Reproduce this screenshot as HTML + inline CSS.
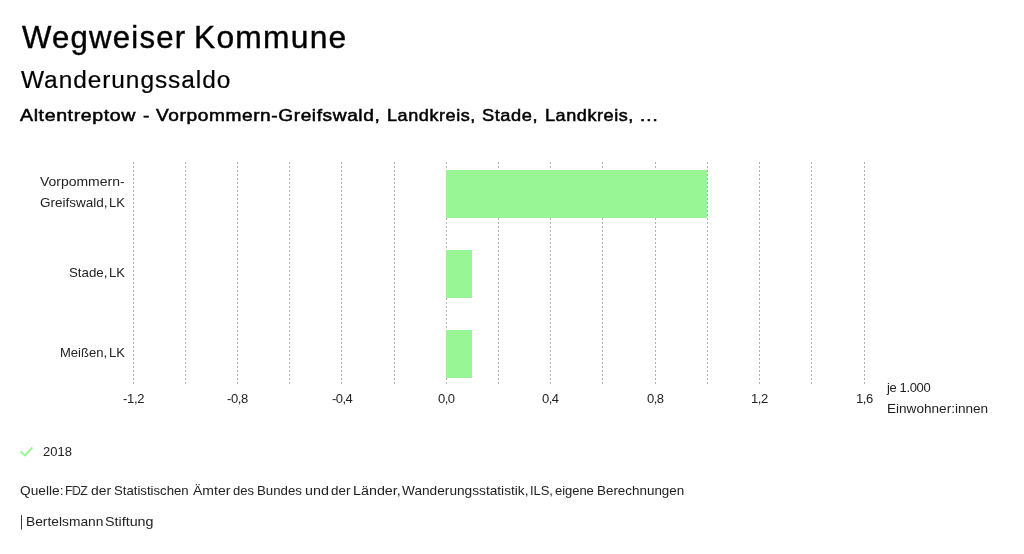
<!DOCTYPE html>
<html><head><meta charset="utf-8">
<style>
html,body{margin:0;padding:0;background:#fff;}
body{width:1024px;height:554px;position:relative;overflow:hidden;font-family:"Liberation Sans",sans-serif;color:#000;}
.t{position:absolute;white-space:nowrap;line-height:1;transform-origin:0 0;will-change:transform;}
svg{position:absolute;left:0;top:0;}
</style></head><body>
<svg width="1024" height="554" viewBox="0 0 1024 554">
<g stroke="#b2b2b2" stroke-width="1" stroke-dasharray="2,2" fill="none" id="grid">
<path d="M133.5 162V384M185.5 162V384M237.5 162V384M289.5 162V384M341.5 162V384M394.5 162V384M446.5 162V384M498.5 162V384M550.5 162V384M602.5 162V384M655.5 162V384M707.5 162V384M759.5 162V384M811.5 162V384M864.5 162V384"/>
</g>
<g fill="#98f794">
<rect x="446" y="170" width="261" height="48"/>
<rect x="446" y="250" width="26" height="48"/>
<rect x="446" y="330" width="26" height="48"/>
</g>
<path d="M20.5 451.5L25 455.4L32.4 447.5" stroke="#98f794" stroke-width="1.9" fill="none"/>
<rect x="21" y="515" width="1" height="14.6" fill="#3a3a3a"/>
</svg>
<div class="t" id="t1" style="left:21.65px;top:22.00px;font-size:30.5px;color:#000;transform:scaleX(1.0206);-webkit-text-stroke:0.4px #000;letter-spacing:1.2px;">Wegweiser</div>
<div class="t" id="t2" style="left:193.61px;top:22.00px;font-size:30.5px;color:#000;transform:scaleX(1.0411);-webkit-text-stroke:0.4px #000;letter-spacing:1.2px;">Kommune</div>
<div class="t" id="s1" style="left:21.04px;top:69.31px;font-size:23.5px;color:#000;transform:scaleX(1.0404);-webkit-text-stroke:0.2px #000;letter-spacing:0.9px;">Wanderungssaldo</div>
<div class="t" id="b1" style="left:19.78px;top:107.42px;font-size:16.4px;color:#000;transform:scaleX(1.1948);-webkit-text-stroke:0.5px #000;letter-spacing:0.5px;">Altentreptow</div>
<div class="t" id="b2" style="left:142.90px;top:107.42px;font-size:16.4px;color:#000;transform:scaleX(1.1752);-webkit-text-stroke:0.5px #000;letter-spacing:0.5px;">-</div>
<div class="t" id="b3" style="left:155.70px;top:107.42px;font-size:16.4px;color:#000;transform:scaleX(1.1666);-webkit-text-stroke:0.5px #000;letter-spacing:0.5px;">Vorpommern-Greifswald,</div>
<div class="t" id="b4" style="left:386.74px;top:107.42px;font-size:16.4px;color:#000;transform:scaleX(1.1030);-webkit-text-stroke:0.5px #000;letter-spacing:0.5px;">Landkreis,</div>
<div class="t" id="b5" style="left:482.20px;top:107.42px;font-size:16.4px;color:#000;transform:scaleX(1.1118);-webkit-text-stroke:0.5px #000;letter-spacing:0.5px;">Stade,</div>
<div class="t" id="b6" style="left:545.15px;top:107.42px;font-size:16.4px;color:#000;transform:scaleX(1.1025);-webkit-text-stroke:0.5px #000;letter-spacing:0.5px;">Landkreis,</div>
<div class="t" id="b7" style="left:639.07px;top:107.42px;font-size:16.4px;color:#000;transform:scaleX(1.2009);-webkit-text-stroke:0.5px #000;letter-spacing:0.5px;">…</div>
<div class="t" id="l1a" style="left:40.19px;top:174.80px;font-size:13px;color:#222;transform:scaleX(1.0737);">Vorpommern-</div>
<div class="t" id="l1b1" style="left:39.90px;top:195.80px;font-size:13px;color:#222;transform:scaleX(1.0392);">Greifswald,</div>
<div class="t" id="l1b2" style="left:108.79px;top:195.80px;font-size:13px;color:#222;transform:scaleX(1.0003);">LK</div>
<div class="t" id="l2a" style="left:68.85px;top:265.80px;font-size:13px;color:#222;transform:scaleX(1.0206);">Stade,</div>
<div class="t" id="l2b" style="left:108.68px;top:265.80px;font-size:13px;color:#222;transform:scaleX(1.0012);">LK</div>
<div class="t" id="l3a" style="left:59.60px;top:345.80px;font-size:13px;color:#222;transform:scaleX(1.0022);">Meißen,</div>
<div class="t" id="l3b" style="left:108.68px;top:345.80px;font-size:13px;color:#222;transform:scaleX(1.0012);">LK</div>
<div class="t" id="x0" style="left:123.23px;top:392.00px;font-size:13px;color:#222;letter-spacing:-0.321px;">-1,2</div>
<div class="t" id="x1" style="left:227.09px;top:392.00px;font-size:13px;color:#222;letter-spacing:-0.398px;">-0,8</div>
<div class="t" id="x2" style="left:331.61px;top:392.00px;font-size:13px;color:#222;letter-spacing:-0.519px;">-0,4</div>
<div class="t" id="x3" style="left:437.51px;top:392.00px;font-size:13px;color:#222;letter-spacing:-0.539px;">0,0</div>
<div class="t" id="x4" style="left:542.23px;top:392.00px;font-size:13px;color:#222;letter-spacing:-0.572px;">0,4</div>
<div class="t" id="x5" style="left:646.51px;top:392.00px;font-size:13px;color:#222;letter-spacing:-0.544px;">0,8</div>
<div class="t" id="x6" style="left:751.00px;top:392.00px;font-size:13px;color:#222;letter-spacing:-0.420px;">1,2</div>
<div class="t" id="x7" style="left:855.90px;top:392.00px;font-size:13px;color:#222;letter-spacing:-0.359px;">1,6</div>
<div class="t" id="u1" style="left:887.37px;top:380.80px;font-size:13px;color:#222;letter-spacing:-0.374px;">je 1.000</div>
<div class="t" id="u2" style="left:886.87px;top:401.80px;font-size:13px;color:#222;transform:scaleX(1.0444);">Einwohner:innen</div>
<div class="t" id="leg" style="left:43.27px;top:444.80px;font-size:13px;color:#222;letter-spacing:-0.018px;">2018</div>
<div class="t" id="q1" style="left:19.52px;top:483.80px;font-size:13px;color:#222;transform:scaleX(1.0554);">Quelle:</div>
<div class="t" id="q2" style="left:64.50px;top:483.80px;font-size:13px;color:#222;transform:scaleX(0.9374);letter-spacing:-0.55px;">FDZ</div>
<div class="t" id="q3" style="left:91.22px;top:483.80px;font-size:13px;color:#222;transform:scaleX(1.0653);">der</div>
<div class="t" id="q4" style="left:114.19px;top:483.80px;font-size:13px;color:#222;transform:scaleX(1.0125);">Statistischen</div>
<div class="t" id="q5" style="left:193.25px;top:483.80px;font-size:13px;color:#222;transform:scaleX(1.0803);">Ämter</div>
<div class="t" id="q6" style="left:232.63px;top:483.80px;font-size:13px;color:#222;letter-spacing:-0.039px;">des</div>
<div class="t" id="q7" style="left:256.69px;top:483.80px;font-size:13px;color:#222;transform:scaleX(1.0203);">Bundes</div>
<div class="t" id="q8" style="left:304.97px;top:483.80px;font-size:13px;color:#222;transform:scaleX(1.1000);">und</div>
<div class="t" id="q9" style="left:331.14px;top:483.80px;font-size:13px;color:#222;transform:scaleX(1.0300);">der</div>
<div class="t" id="q10" style="left:352.78px;top:483.80px;font-size:13px;color:#222;transform:scaleX(1.1014);">Länder,</div>
<div class="t" id="q11" style="left:402.43px;top:483.80px;font-size:13px;color:#222;transform:scaleX(1.0522);">Wanderungsstatistik,</div>
<div class="t" id="q12" style="left:530.24px;top:483.80px;font-size:13px;color:#222;letter-spacing:-0.089px;">ILS,</div>
<div class="t" id="q13" style="left:555.23px;top:483.80px;font-size:13px;color:#222;letter-spacing:-0.041px;">eigene</div>
<div class="t" id="q14" style="left:596.71px;top:483.80px;font-size:13px;color:#222;transform:scaleX(1.0311);">Berechnungen</div>
<div class="t" id="bs2" style="left:25.59px;top:515.40px;font-size:13px;color:#222;transform:scaleX(1.0607);">Bertelsmann</div>
<div class="t" id="bs3" style="left:105.10px;top:515.40px;font-size:13px;color:#222;transform:scaleX(1.0998);">Stiftung</div>
</body></html>
